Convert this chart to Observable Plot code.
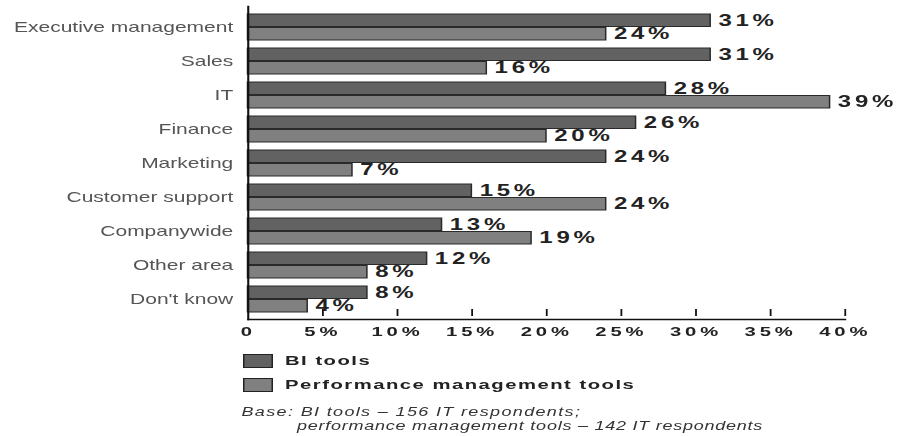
<!DOCTYPE html>
<html>
<head>
<meta charset="utf-8">
<script src="https://cdn.jsdelivr.net/npm/d3@7"></script>
<script src="https://cdn.jsdelivr.net/npm/@observablehq/plot@0.6"></script>
<style>
  html, body { margin: 0; padding: 0; background: #fff; }
  #wrap { position: relative; width: 599px; height: 436px; transform: scaleX(1.5); transform-origin: 0 0;
          font-family: "Liberation Sans", Arial, Helvetica, sans-serif; }
  #chart svg { display: block; }
  g[aria-label="x-axis tick label"] text { letter-spacing: 2.6px; font-weight: bold; }
  g[aria-label="text"] text { letter-spacing: 2.5px; font-weight: bold; }
  .leg { position: absolute; left: 162px; height: 15px; display: flex; align-items: center; }
  .sw { width: 18px; height: 12px; border: 1.5px solid #222; margin-right: 8px; }
  .lt { font-size: 13.5px; font-weight: bold; letter-spacing: 1px; color: #222; white-space: nowrap; }
  .cap { position: absolute; font-size: 12px; font-style: italic; color: #333; letter-spacing: 0.5px; white-space: nowrap; }
</style>
</head>
<body>
<div id="wrap">
  <div id="chart"></div>
  <div class="leg" style="top:353px"><div class="sw" style="background:#626262"></div><span class="lt">BI tools</span></div>
  <div class="leg" style="top:377px"><div class="sw" style="background:#808080"></div><span class="lt">Performance management tools</span></div>
  <div class="cap" style="left:161px; top:405px; letter-spacing:0.9px">Base: BI tools – 156 IT respondents;</div>
  <div class="cap" style="left:198px; top:419px">performance management tools – 142 IT respondents</div>
</div>
<script>
const categories = ["Executive management","Sales","IT","Finance","Marketing","Customer support","Companywide","Other area","Don't know"];
const biTools = [31,31,28,26,24,15,13,12,8];
const pmTools = [24,16,39,20,7,24,19,8,4];
const xTicks = [0,5,10,15,20,25,30,35,40];

const data = categories.map((c, i) => ({category: c, bi: biTools[i], pm: pmTools[i]}));
const lastCategory = categories[categories.length - 1];

const chart = Plot.plot({
  width: 599,
  height: 341,
  marginLeft: 165,
  marginRight: 36,
  marginTop: 6,
  marginBottom: 22,
  style: {fontFamily: "'Liberation Sans', Arial, Helvetica, sans-serif", background: "#fff", overflow: "visible"},
  x: {domain: [0, 40], label: null},
  y: {domain: categories, paddingInner: 0.25, paddingOuter: 0.14, label: null},
  marks: [
    Plot.barX(data, {x: "bi", y: "category", insetBottom: 13.5, fill: "#626262", stroke: "#2a2a2a", strokeWidth: 1}),
    Plot.barX(data, {x: "pm", y: "category", insetTop: 13.5, fill: "#808080", stroke: "#2a2a2a", strokeWidth: 1}),
    Plot.text(data, {x: "bi", y: "category", text: d => d.bi + "%", dx: 5, dy: -6.5, textAnchor: "start", fontSize: 16, fill: "#222"}),
    Plot.text(data, {x: "pm", y: "category", text: d => d.pm + "%", dx: 5, dy: 6.5, textAnchor: "start", fontSize: 16, fill: "#222"}),
    Plot.tickX(xTicks.slice(1), {x: d => d, y: () => lastCategory, insetTop: 19, dy: 4, stroke: "#111", strokeWidth: 1.2}),
    Plot.frame({anchor: "left", stroke: "#111", strokeWidth: 1.4}),
    Plot.frame({anchor: "bottom", stroke: "#111", strokeWidth: 1.3}),
    Plot.axisX({ticks: xTicks, tickFormat: d => d === 0 ? "0" : d + "%", tickSize: 0, tickPadding: 7, fontSize: 13.5, fill: "#222", label: null}),
    Plot.axisY({tickSize: 0, tickPadding: 10, fontSize: 14, fill: "#555", label: null})
  ]
});
document.getElementById("chart").appendChild(chart);
</script>
</body>
</html>
